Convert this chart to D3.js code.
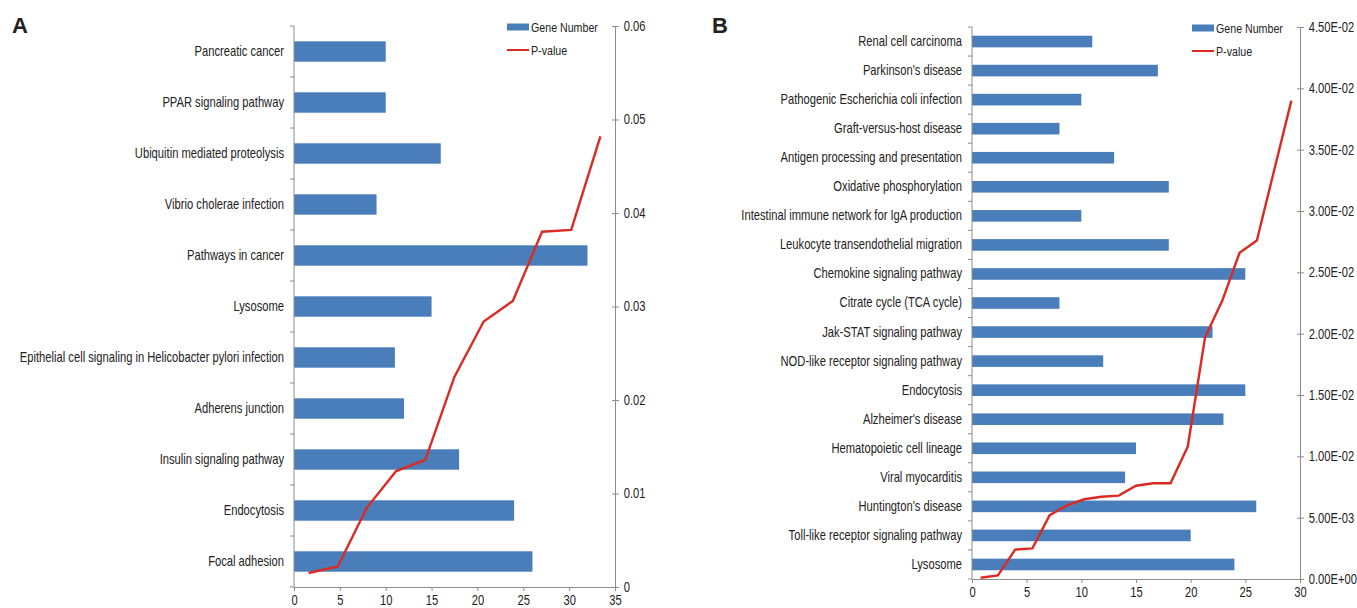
<!DOCTYPE html>
<html>
<head>
<meta charset="utf-8">
<script src="https://cdn.jsdelivr.net/npm/d3@7"></script>
<style>
  body { margin: 0; background: #fff; }
  svg { display: block; }
  text { font-family: "Liberation Sans", Arial, sans-serif; fill: #222; }
  .axis path, .axis line { stroke: #8c8c8c; }
  .panelLetter { font-weight: bold; }
</style>
</head>
<body>
<svg id="chart" width="1357" height="608"></svg>
<script>
// Panel A - categories listed top to bottom
const aCategories = ["Pancreatic cancer", "PPAR signaling pathway", "Ubiquitin mediated proteolysis",
  "Vibrio cholerae infection", "Pathways in cancer", "Lysosome",
  "Epithelial cell signaling in Helicobacter pylori infection", "Adherens junction",
  "Insulin signaling pathway", "Endocytosis", "Focal adhesion"]
const aGenes = [10, 10, 16, 9, 32, 15, 11, 12, 18, 24, 26]
// P-values in line order (left to right = bottom category to top category)
const aPValues = [0.0015, 0.0022, 0.0085, 0.0124, 0.0136, 0.0225, 0.0284, 0.0306, 0.0380, 0.0382, 0.0482]
const aGeneTicks = [0, 5, 10, 15, 20, 25, 30, 35]
const aPTicks = [0, 0.01, 0.02, 0.03, 0.04, 0.05, 0.06]

// Panel B
const bCategories = ["Renal cell carcinoma", "Parkinson's disease", "Pathogenic Escherichia coli infection",
  "Graft-versus-host disease", "Antigen processing and presentation", "Oxidative phosphorylation",
  "Intestinal immune network for IgA production", "Leukocyte transendothelial migration",
  "Chemokine signaling pathway", "Citrate cycle (TCA cycle)", "Jak-STAT signaling pathway",
  "NOD-like receptor signaling pathway", "Endocytosis", "Alzheimer's disease",
  "Hematopoietic cell lineage", "Viral myocarditis", "Huntington's disease",
  "Toll-like receptor signaling pathway", "Lysosome"]
const bGenes = [11, 17, 10, 8, 13, 18, 10, 18, 25, 8, 22, 12, 25, 23, 15, 14, 26, 20, 24]
const bPValues = [0.0001, 0.0003, 0.0024, 0.0025, 0.0052, 0.0060, 0.0065, 0.0067, 0.0068, 0.0076,
  0.0078, 0.0078, 0.0108, 0.0197, 0.0227, 0.0266, 0.0276, 0.0333, 0.0390]
const bGeneTicks = [0, 5, 10, 15, 20, 25, 30]
const bPTicks = [0, 0.005, 0.01, 0.015, 0.02, 0.025, 0.03, 0.035, 0.04, 0.045]

const barColor = "#4a7ebb"
const lineColor = "#dc2a22"
// the original uses a narrow font; squeeze regular text horizontally
const squeeze = 0.8

const svg = d3.select("#chart")

// Excel style scientific label, e.g. 4.50E-02
function sciFormat(d) {
    if (d === 0) return "0.00E+00"
    let parts = d.toExponential(2).split("e")
    let exp = parseInt(parts[1])
    let sign = exp < 0 ? "-" : "+"
    return parts[0].toUpperCase() + "E" + sign + String(Math.abs(exp)).padStart(2, "0")
}

/**
 * Draw one combo panel: horizontal bars for gene number + P-value line
 */
function drawPanel(p) {
    const g = svg.append("g")

    // Gene number scale (bottom)
    const xScale = d3.scaleLinear()
        .domain([0, d3.max(p.geneTicks)])
        .range([p.left, p.right])

    // Category scale (top to bottom)
    const yScale = d3.scaleBand()
        .domain(p.categories)
        .range([p.top, p.bottom])
        .paddingInner(0.6)
        .paddingOuter(0.3)

    // P-value scale (right)
    const pScale = d3.scaleLinear()
        .domain([0, d3.max(p.pTicks)])
        .range([p.bottom, p.top])

    // Line categories spread across the width (secondary category axis)
    const lineX = d3.scaleBand()
        .domain(d3.range(p.pValues.length))
        .range([p.left, p.right])

    // Bars
    g.selectAll("rect.bar")
        .data(p.categories)
        .enter()
        .append("rect")
        .attr("class", "bar")
        .attr("x", xScale(0))
        .attr("y", d => yScale(d))
        .attr("width", (d, i) => xScale(p.genes[i]) - xScale(0))
        .attr("height", yScale.bandwidth())
        .attr("fill", barColor)

    // Left category axis
    const leftAxis = g.append("g")
        .attr("class", "axis")
        .attr("transform", "translate(" + p.left + ",0)")
        .call(d3.axisLeft(yScale).tickSize(0).tickPadding(12.5))
    leftAxis.select(".domain").attr("d", "M0," + p.top + "V" + p.bottom)
    leftAxis.selectAll("text")
        .style("font-size", "14px")
        .attr("transform", "scale(" + squeeze + ",1)")

    // Tick marks between categories
    const step = yScale.step()
    g.selectAll("line.catTick")
        .data(d3.range(p.categories.length + 1))
        .enter()
        .append("line")
        .attr("class", "catTick")
        .attr("x1", p.left - 4)
        .attr("x2", p.left)
        .attr("y1", d => p.top + d * step)
        .attr("y2", d => p.top + d * step)
        .attr("stroke", "#8c8c8c")

    // Bottom axis
    const bottomAxis = g.append("g")
        .attr("class", "axis")
        .attr("transform", "translate(0," + p.bottom + ")")
        .call(d3.axisBottom(xScale).tickValues(p.geneTicks).tickSizeOuter(0).tickSize(4).tickPadding(4))
    bottomAxis.selectAll("text")
        .style("font-size", "14px")
        .attr("transform", "scale(" + squeeze + ",1)")

    // Right axis
    const rightAxis = g.append("g")
        .attr("class", "axis")
        .attr("transform", "translate(" + p.right + ",0)")
        .call(d3.axisRight(pScale).tickValues(p.pTicks).tickFormat(p.pFormat).tickSizeOuter(0).tickSize(4).tickPadding(7))
    rightAxis.selectAll(".tick line").attr("x1", -3)
    rightAxis.selectAll("text")
        .style("font-size", "14px")
        .attr("transform", "scale(" + squeeze + ",1)")

    // P-value line
    const line = d3.line()
        .x((d, i) => lineX(i) + lineX.bandwidth() / 2)
        .y(d => pScale(d))
    g.append("path")
        .datum(p.pValues)
        .attr("d", line)
        .attr("fill", "none")
        .attr("stroke", lineColor)
        .attr("stroke-width", 2.4)

    // Legend
    const legend = g.append("g").attr("transform", "translate(" + p.legendX + "," + p.legendY + ")")
    legend.append("rect")
        .attr("x", 0).attr("y", -3.5)
        .attr("width", 22).attr("height", 7)
        .attr("fill", barColor)
    legend.append("text")
        .attr("transform", "translate(24,0) scale(0.82,1)")
        .attr("dy", "0.35em")
        .style("font-size", "13px")
        .text("Gene Number")
    legend.append("line")
        .attr("x1", 0).attr("x2", 22)
        .attr("y1", 23).attr("y2", 23)
        .attr("stroke", lineColor).attr("stroke-width", 2)
    legend.append("text")
        .attr("transform", "translate(24,23) scale(0.82,1)")
        .attr("dy", "0.35em")
        .style("font-size", "13px")
        .text("P-value")

    // Panel letter
    g.append("text")
        .attr("class", "panelLetter")
        .attr("x", p.letterX).attr("y", 33)
        .style("font-size", "22px")
        .text(p.letter)
}

drawPanel({
    letter: "A", letterX: 12,
    categories: aCategories, genes: aGenes, pValues: aPValues,
    geneTicks: aGeneTicks, pTicks: aPTicks,
    pFormat: d => d === 0 ? "0" : d3.format(".2f")(d),
    left: 294, right: 615, top: 26, bottom: 587,
    legendX: 507, legendY: 27
})

drawPanel({
    letter: "B", letterX: 712,
    categories: bCategories, genes: bGenes, pValues: bPValues,
    geneTicks: bGeneTicks, pTicks: bPTicks,
    pFormat: sciFormat,
    left: 972, right: 1300, top: 27, bottom: 579,
    legendX: 1192, legendY: 28
})
</script>
</body>
</html>
